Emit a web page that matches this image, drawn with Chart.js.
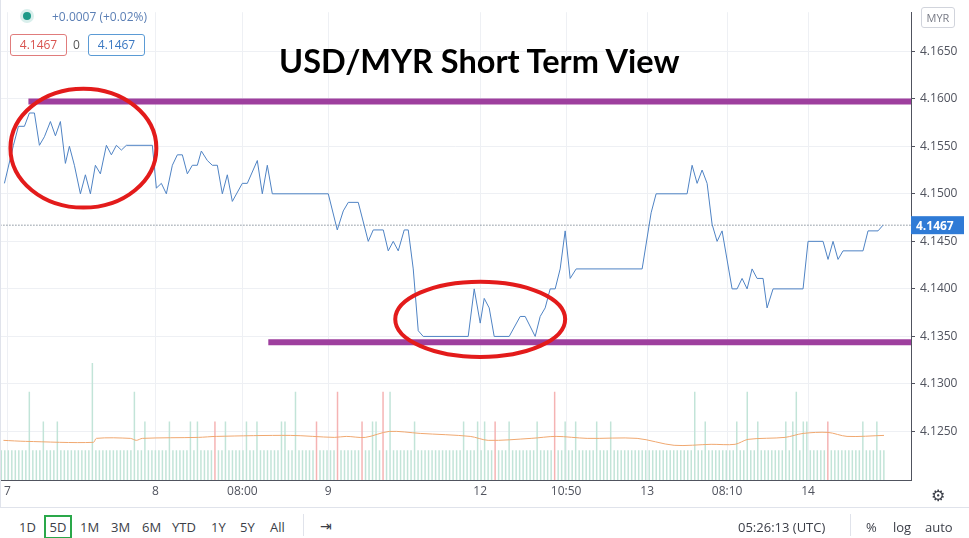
<!DOCTYPE html>
<html><head><meta charset="utf-8">
<script src="https://cdn.jsdelivr.net/npm/chart.js@4"></script>
<style>
body{margin:0;width:969px;height:538px;background:#fff;font-family:"Open Sans",sans-serif;overflow:hidden;position:relative}
#wrap{position:absolute;left:0;top:0;width:969px;height:508px}
.a{position:absolute;font-size:13px;color:#3b3e48;white-space:nowrap}
</style></head><body>
<div id="wrap"><canvas id="c" width="969" height="508"></canvas></div>
<div style="position:absolute;left:0;top:507px;width:969px;height:1px;background:#e0e3eb"></div>
<div style="position:absolute;left:0;top:0;width:1px;height:508px;background:#e0e3eb"></div>
<div style="position:absolute;left:20px;top:9px;width:14px;height:14px;border-radius:7px;background:#d9efec"></div>
<div style="position:absolute;left:23px;top:12px;width:8px;height:8px;border-radius:4px;background:#1d9a88"></div>
<div class="a" style="left:52px;top:8px;font-size:12px;color:#5b7fb5">+0.0007 (+0.02%)</div>
<div class="a" style="left:10px;top:34px;width:55px;height:20px;border:1px solid #e07c7c;border-radius:3px;color:#d9534f;font-size:12px;text-align:center;line-height:20px">4.1467</div>
<div class="a" style="left:73px;top:36px;font-size:12px;color:#555">0</div>
<div class="a" style="left:88px;top:34px;width:55px;height:20px;border:1px solid #5b9bd5;border-radius:3px;color:#3a78c2;font-size:12px;text-align:center;line-height:20px">4.1467</div>
<div class="a" style="left:279px;top:41px;font-family:Lato,sans-serif;font-weight:bold;font-size:32.5px;color:#000">USD/MYR Short Term View</div>
<div class="a" style="left:921px;top:7px;width:32px;height:19px;border:1px solid #d1d4dc;border-radius:3px;font-size:11px;color:#787b86;text-align:center;line-height:19px">MYR</div>
<div class="a" style="left:931px;top:484px;font-size:16px;color:#3b3e48">⚙</div>
<div class="a" style="left:19px;top:518px">1D</div>
<div class="a" style="left:44px;top:515px;width:24px;height:20px;border:2px solid #2aa84a;text-align:center;line-height:20px">5D</div>
<div class="a" style="left:80px;top:518px">1M</div>
<div class="a" style="left:111px;top:518px">3M</div>
<div class="a" style="left:142px;top:518px">6M</div>
<div class="a" style="left:172px;top:518px">YTD</div>
<div class="a" style="left:211px;top:518px">1Y</div>
<div class="a" style="left:240px;top:518px">5Y</div>
<div class="a" style="left:270px;top:518px">All</div>
<div style="position:absolute;left:303px;top:514px;width:1px;height:22px;background:#e0e3eb"></div>
<div class="a" style="left:320px;top:516px;font-size:14px">⇥</div>
<div class="a" style="left:738px;top:518px">05:26:13 (UTC)</div>
<div style="position:absolute;left:850px;top:514px;width:1px;height:22px;background:#e0e3eb"></div>
<div class="a" style="left:866px;top:518px">%</div>
<div class="a" style="left:893px;top:518px">log</div>
<div class="a" style="left:925px;top:518px">auto</div>
<script>
const priceX=[4,13,18,24,29,34,39,44,50,55,60,65,69,74,80,85,90,95,100,106,111,116,121,126,152,156,161,166,172,177,182,187,192,197,201,207,212,217,222,227,232,242,247,257,262,267,272,328,337,343,348,358,368,373,383,388,393,398,404,408,413,418,423,468,474,480,484,489,494,509,520,525,535,540,545,550,555,560,565,570,576,642,651,656,687,692,697,702,707,712,717,722,732,737,742,747,752,757,763,767,773,803,808,823,828,833,838,843,863,868,878,883];
const priceY=[4.1511,4.1551,4.1571,4.1571,4.1585,4.1585,4.1551,4.1560,4.1576,4.1561,4.1576,4.1532,4.1550,4.1530,4.1500,4.1520,4.1500,4.1530,4.1521,4.1551,4.1541,4.1551,4.1546,4.1551,4.1551,4.1506,4.1511,4.1500,4.1530,4.1541,4.1541,4.1521,4.1530,4.1530,4.1545,4.1535,4.1530,4.1530,4.1500,4.1520,4.1492,4.1511,4.1511,4.1535,4.1500,4.1530,4.1500,4.1500,4.1462,4.1482,4.1491,4.1491,4.1450,4.1462,4.1462,4.1440,4.1450,4.1440,4.1462,4.1462,4.1421,4.1356,4.1350,4.1350,4.1400,4.1364,4.1390,4.1380,4.1350,4.1350,4.1371,4.1371,4.1350,4.1371,4.1380,4.1400,4.1400,4.1421,4.1461,4.1411,4.1421,4.1421,4.1480,4.1500,4.1500,4.1530,4.1511,4.1525,4.1511,4.1468,4.1450,4.1461,4.1400,4.1400,4.1411,4.1400,4.1421,4.1411,4.1411,4.1380,4.1400,4.1400,4.1450,4.1450,4.1431,4.1450,4.1431,4.1440,4.1440,4.1461,4.1461,4.1467];
const lastPrice=4.1467;
const resistance={x:[28,911],y:4.1597};
const support={x:[268,911],y:4.1344};
const ellipses=[{cx:83,cy:4.1548,rx:73,ry:0.00625},{cx:480,cy:4.1368,rx:85,ry:0.00396}];
const yTicks=[4.1250,4.1300,4.1350,4.1400,4.1450,4.1500,4.1550,4.1600,4.1650];
const xTickPos=[7,155,242,328,480,566,647,727,808];
const xTickLabels=["7","8","08:00","9","12","10:50","13","08:10","14"];
const volBarCount=253, volBase=30;
const volSpikeIdx=[8,38,84,111,198,213,227,96,109,158,26,12,16,41,48,54,56,64,70,73,80,81,106,107,118,132,136,138,145,153,161,164,170,174,201,210,216,224,226,229,230,246,250,61,90,103,141,236];
const volSpikeVal=[89,89,89,89,89,89,89,89,89,89,118,59,59,59,59,59,59,59,59,59,59,59,59,59,59,59,59,59,59,59,59,59,59,59,59,59,59,59,59,59,59,59,59,59,59,59,59,59];
const volRedIdx=[96,109,158,61,90,103,141,236];
const maX=[3,25,93,96,130,136,142,198,216,290,334,346,365,389,420,470,488,531,556,587,637,674,711,735,748,785,803,828,847,884];
const maY=[40,39,38,42,42,40,42,43,44,45,43,44,43,49,47,44,40,42,44,42,42,35,36,36,41,43,47,48,44,45];

const volumes=new Array(volBarCount).fill(volBase);
volSpikeIdx.forEach((k,j)=>volumes[k]=volSpikeVal[j]);
const volColors=volumes.map((v,k)=>volRedIdx.includes(k)?'#f5b3b3':'#c2e4d8');
const volLabels=[...Array(260).keys()];

const P=(xs,ys)=>xs.map((x,k)=>({x,y:ys[k]}));
const ell={id:'ell',afterDatasetsDraw(ch){
  const c=ch.ctx,x=ch.scales.x,y=ch.scales.y;
  c.save();c.strokeStyle='#e31b1b';c.lineWidth=4;
  ellipses.forEach(e=>{const px=x.getPixelForValue(e.cx),py=y.getPixelForValue(e.cy);
    const rx=x.getPixelForValue(e.cx+e.rx)-px,ry=py-y.getPixelForValue(e.cy+e.ry);
    c.beginPath();c.ellipse(px,py,rx,ry,0,0,Math.PI*2);c.stroke();});
  const py=y.getPixelForValue(lastPrice);
  c.fillStyle='#2f7bd6';c.fillRect(ch.chartArea.right,py-9,53,18);
  c.fillStyle='#fff';c.font='bold 12px "Open Sans"';c.textBaseline='middle';c.fillText(lastPrice.toFixed(4),ch.chartArea.right+5,py+1);
  c.restore();}};

new Chart(document.getElementById('c'),{
 data:{labels:volLabels,datasets:[
  {type:'bar',data:volumes,backgroundColor:volColors,xAxisID:'xv',yAxisID:'yv',barPercentage:0.85,categoryPercentage:1,order:5},
  {type:'line',data:P(maX,maY),borderColor:'#f0a870',borderWidth:1,pointRadius:0,xAxisID:'x',yAxisID:'yv',tension:0.3,order:4},
  {type:'line',data:[{x:0,y:lastPrice},{x:911,y:lastPrice}],borderColor:'#4a5a6a',borderWidth:1,borderDash:[1,2],pointRadius:0,xAxisID:'x',yAxisID:'y',order:3},
  {type:'line',data:P(priceX,priceY),borderColor:'#4f83c4',borderWidth:1,pointRadius:0,xAxisID:'x',yAxisID:'y',order:2},
  {type:'line',data:resistance.x.map(x=>({x,y:resistance.y})),borderColor:'#9e3f9e',borderWidth:6,pointRadius:0,xAxisID:'x',yAxisID:'y',order:1},
  {type:'line',data:support.x.map(x=>({x,y:support.y})),borderColor:'#9e3f9e',borderWidth:6,pointRadius:0,xAxisID:'x',yAxisID:'y',order:1}
 ]},
 options:{responsive:false,animation:false,layout:{padding:0},
  plugins:{legend:{display:false},tooltip:{enabled:false}},
  scales:{
   x:{type:'linear',min:0,max:911,position:'bottom',
      afterBuildTicks:s=>{s.ticks=xTickPos.map(v=>({value:v}));},
      afterFit:s=>{s.height=28;},
      ticks:{callback:(v)=>xTickLabels[xTickPos.indexOf(v)],color:'#50535e',font:{size:12,family:'Open Sans'},maxRotation:0,autoSkip:false,padding:4},
      grid:{color:'#eef0f4',drawTicks:false},border:{color:'#50535e'}},
   xv:{type:'category',display:false,offset:true},
   y:{type:'linear',position:'right',min:4.1199,max:4.1691,
      afterBuildTicks:s=>{s.ticks=yTicks.map(v=>({value:v}));},
      afterFit:s=>{s.width=58;},
      ticks:{callback:v=>v.toFixed(4),color:'#50535e',font:{size:12,family:'Open Sans'},padding:5},
      grid:{color:'#eef0f4',tickLength:4,tickColor:'#50535e'},border:{color:'#50535e'}},
   yv:{type:'linear',display:false,min:0,max:472}
  }},
 plugins:[ell]});
</script></body></html>
